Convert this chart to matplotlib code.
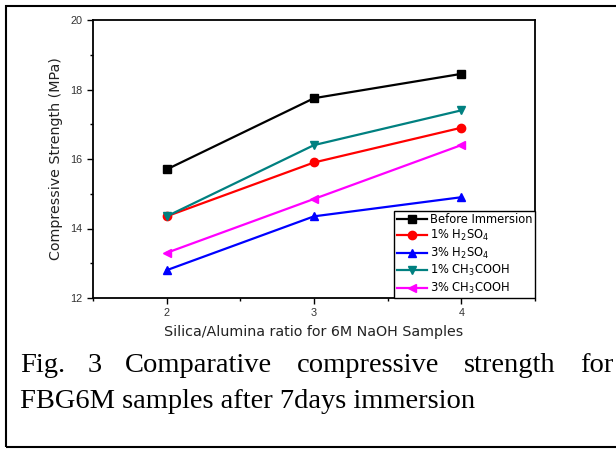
# Compressive strength vs silica/alumina ratio, FBG6M samples

import matplotlib
matplotlib.use('Agg')
import matplotlib.pyplot as plt
from matplotlib.patches import Rectangle
from matplotlib.ticker import MultipleLocator

ratio = [2, 3, 4]
before = [15.7, 17.75, 18.45]
h2so4_1 = [14.35, 15.9, 16.9]
h2so4_3 = [12.8, 14.35, 14.9]
ch3cooh_1 = [14.35, 16.4, 17.4]
ch3cooh_3 = [13.3, 14.85, 16.4]

labels = ['Before Immersion', '1% H$_2$SO$_4$', '3% H$_2$SO$_4$',
          '1% CH$_3$COOH', '3% CH$_3$COOH']
colors = ['black', 'red', 'blue', '#008080', 'magenta']
markers = ['s', 'o', '^', 'v', '<']

plt.rcParams['font.family'] = ['Liberation Sans', 'DejaVu Sans']
plt.rcParams['mathtext.fontset'] = 'dejavusans'

fig = plt.figure(figsize=(6.16, 4.51), dpi=100)
ax = fig.add_axes([93 / 616, 1 - 298 / 451, 442 / 616, 278 / 451])

series = [before, h2so4_1, h2so4_3, ch3cooh_1, ch3cooh_3]
for vals, lab, c, m in zip(series, labels, colors, markers):
    ax.plot(ratio, vals, color=c, marker=m, markersize=6, linewidth=1.6, label=lab)

ax.set_xlim(1.5, 4.5)
ax.set_ylim(12, 20)
ax.xaxis.set_major_locator(MultipleLocator(1))
ax.xaxis.set_minor_locator(MultipleLocator(0.5))
ax.yaxis.set_major_locator(MultipleLocator(2))
ax.yaxis.set_minor_locator(MultipleLocator(1))
ax.tick_params(which='both', direction='out', top=False, right=False,
               labelsize=7.8, labelcolor='#333333', width=1)
ax.tick_params(which='major', length=4)
ax.tick_params(which='minor', length=2.5)
for s in ax.spines.values():
    s.set_linewidth(1.3)

ax.set_xlabel('Silica/Alumina ratio for 6M NaOH Samples', family='DejaVu Sans',
              fontsize=10.3, labelpad=5, color='#222222')
ax.set_ylabel('Compressive Strength (MPa)', family='DejaVu Sans',
              fontsize=10.3, labelpad=5, color='#222222')

leg = ax.legend(loc='lower right', handlelength=2.6, borderaxespad=0,
                fancybox=False, edgecolor='black', framealpha=1, borderpad=0.2,
                labelspacing=0.2, handletextpad=0.3,
                prop={'family': 'DejaVu Sans', 'size': 8.3})
leg.get_frame().set_linewidth(1)

# page-style frame around the figure
fig.patches.append(Rectangle((6 / 616, 4 / 451), 1.0, 1 - 10 / 451,
                             transform=fig.transFigure, fill=False,
                             edgecolor='black', linewidth=1.5))

# justified caption, first line
words = [('Fig.', 20), ('3', 88), ('Comparative', 125), ('compressive', 297),
         ('strength', 464), ('for', 580)]
for w, x in words:
    fig.text(x / 616, 1 - 372 / 451, w, family='Liberation Serif', fontsize=20.5)
fig.text(20 / 616, 1 - 408 / 451, 'FBG6M samples after 7days immersion',
         family='Liberation Serif', fontsize=20.5)

fig.savefig('out.png', dpi=100)
